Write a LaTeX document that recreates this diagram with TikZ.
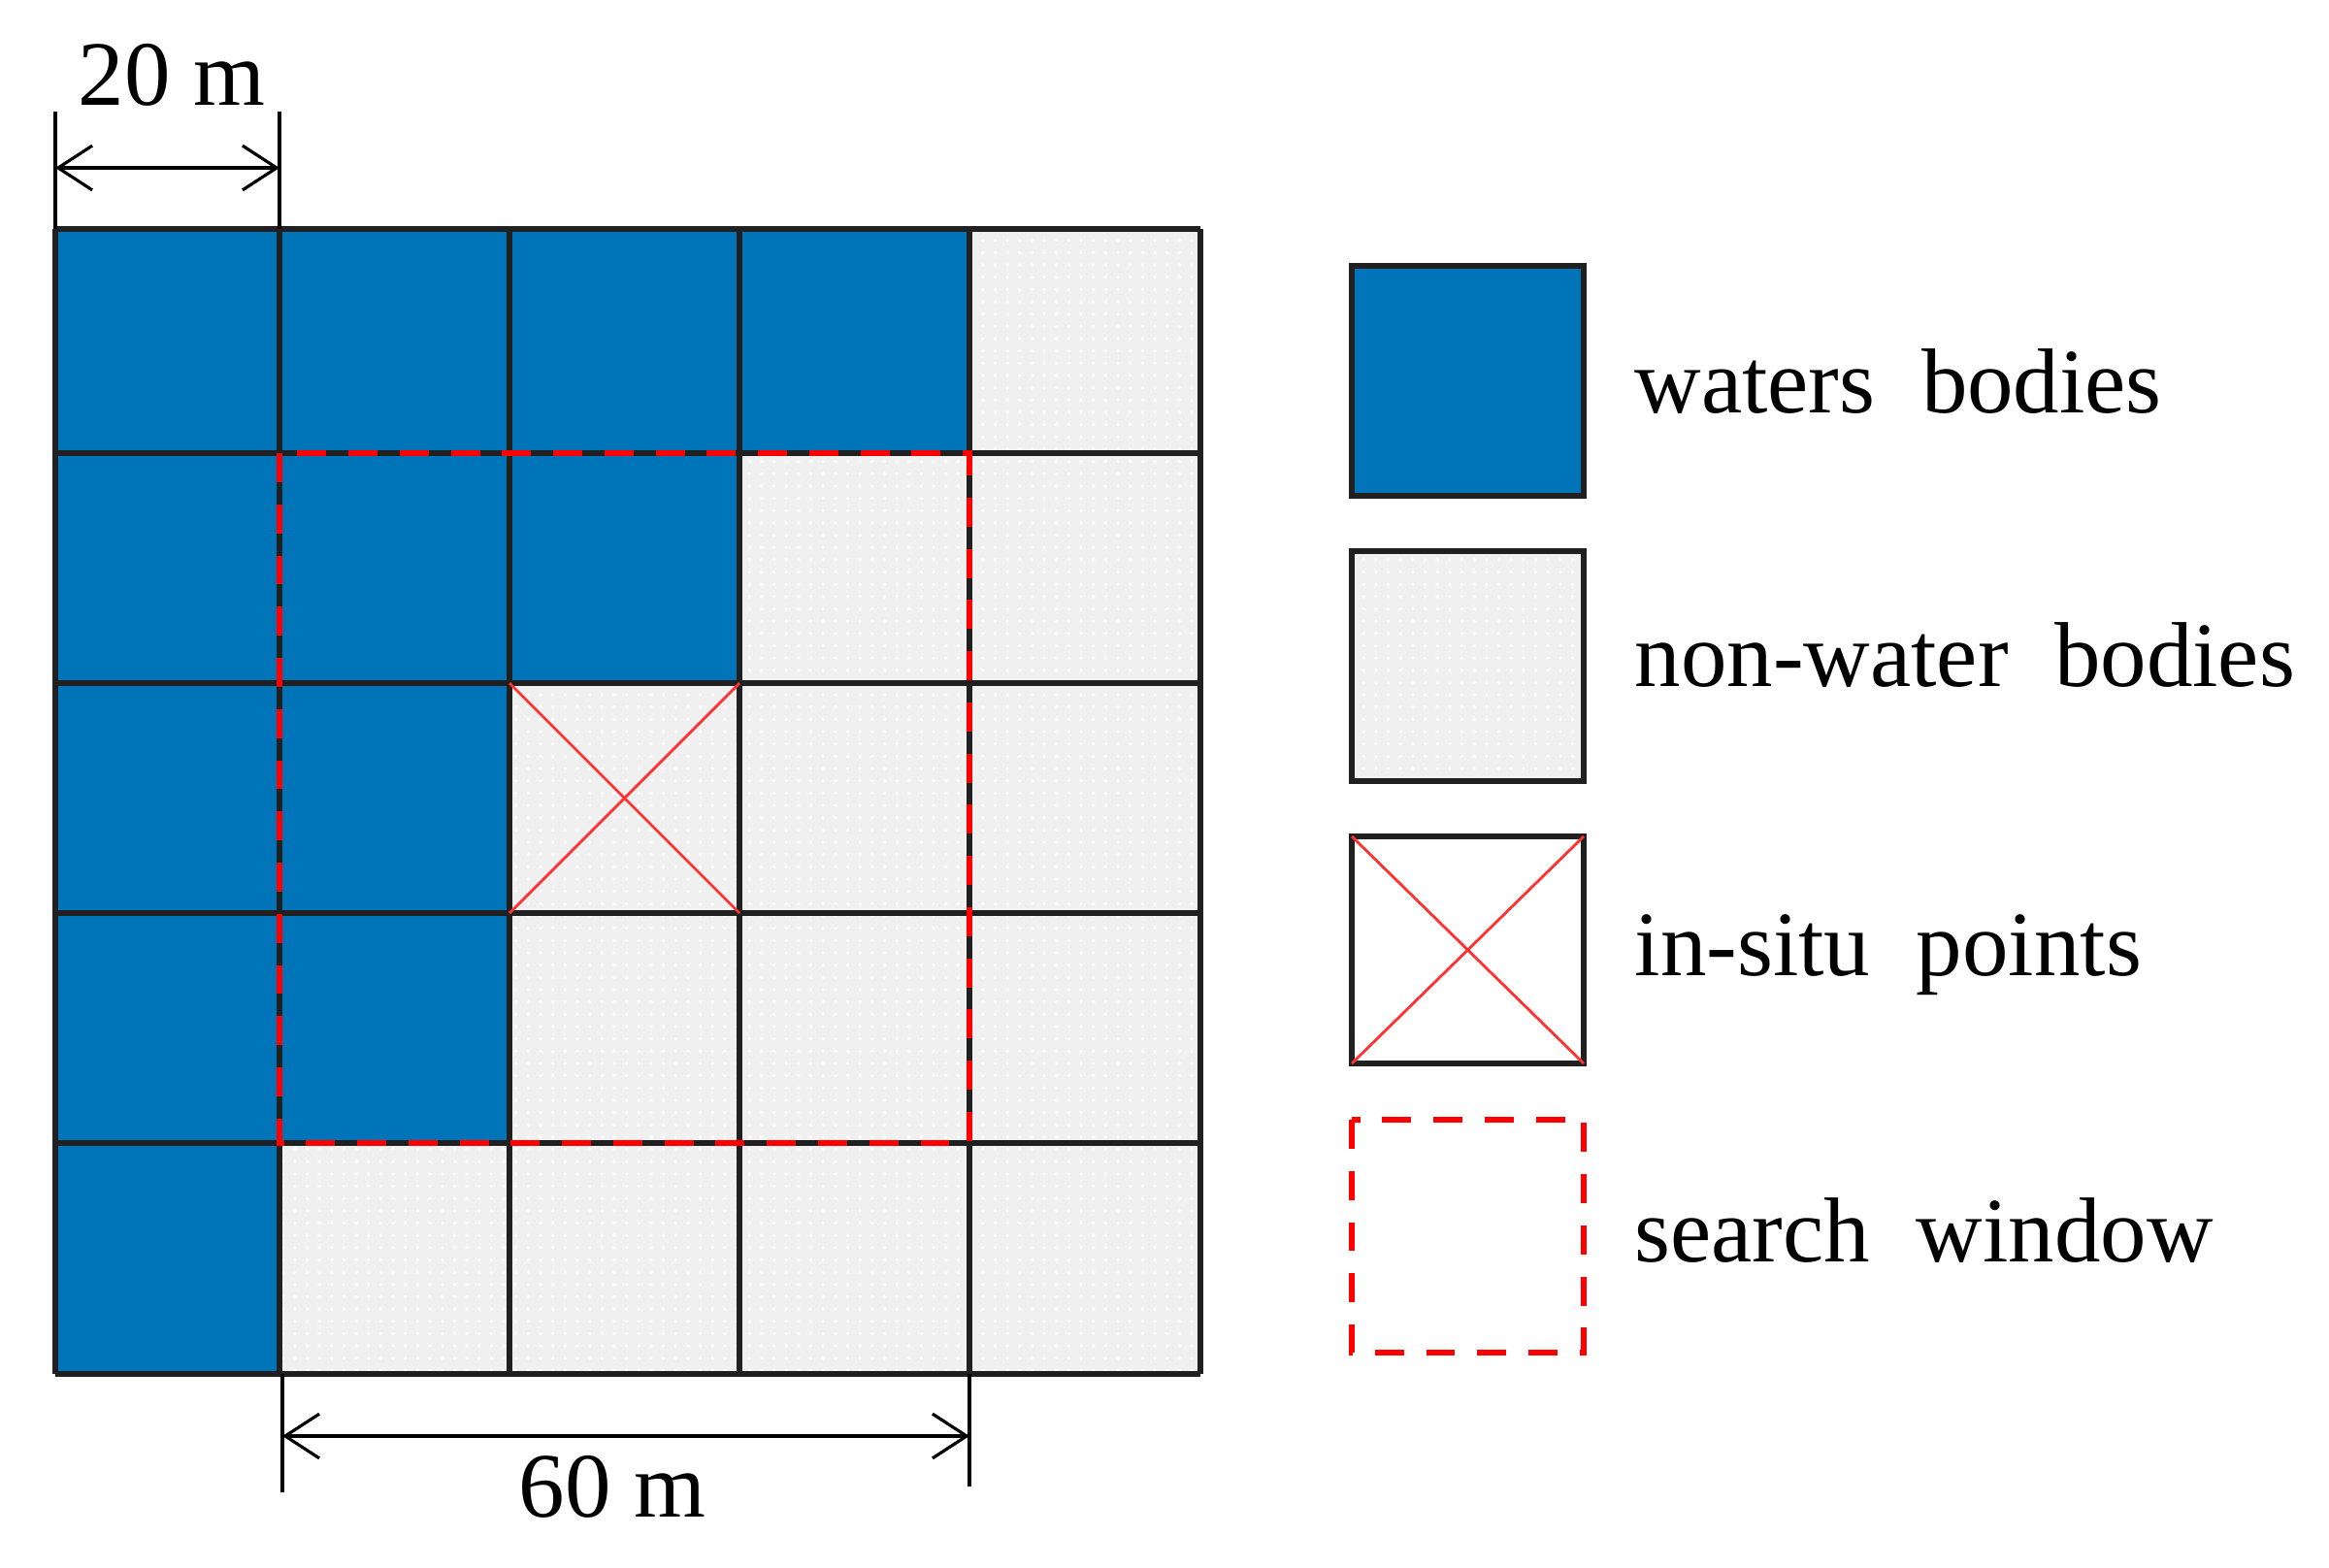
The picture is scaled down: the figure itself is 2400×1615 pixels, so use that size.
\documentclass[tikz,border=0pt]{standalone}
\usepackage{fontspec}
\setmainfont{Liberation Serif}
\usetikzlibrary{arrows.meta,patterns.meta}
\definecolor{waterblue}{RGB}{0,116,184}
\definecolor{landgray}{RGB}{240,240,240}
\definecolor{gridline}{RGB}{32,32,32}
\definecolor{winred}{RGB}{255,0,0}
\definecolor{crossred}{RGB}{255,50,50}
\tikzset{
  landfill/.style={fill=landgray},
  landdots/.style={pattern={Dots[radius=0.55pt,distance=3.6pt]},pattern color=white},
  gridstroke/.style={draw=gridline,line width=1.5pt},
  windowstroke/.style={draw=winred,line width=1.9pt,dash pattern=on 8.5pt off 6.5pt},
  crossstroke/.style={draw=crossred,line width=0.8pt},
  dimline/.style={draw=black,line width=1.1pt},
  dimarrow/.style={draw=black,line width=1.1pt,{Straight Barb[length=10pt,width=13pt,line width=0.9pt]}-{Straight Barb[length=10pt,width=13pt,line width=0.9pt]}},
  lbl/.style={inner sep=0pt,font=\fontsize{27}{32}\selectfont},
  wlbl/.style={lbl,execute at begin node={\spaceskip=0.5em plus 0.1em}}
}
\begin{document}
\begin{tikzpicture}[x=0.01cm,y=-0.01cm]
\useasboundingbox (0,0) rectangle (2400,1615);
% grid background
\fill[landfill] (57,236) rectangle (1237,1416);
\fill[landdots] (57,236) rectangle (1237,1416);
% water cells
\fill[waterblue] (57,236) -- (999,236) -- (999,467) -- (762,467) -- (762,704)
  -- (525,704) -- (525,1178) -- (288,1178) -- (288,1416) -- (57,1416) -- cycle;
% grid lines
\foreach \x in {57,288,525,762,999,1237} \draw[gridstroke] (\x,236) -- (\x,1416);
\foreach \y in {236,467,704,941,1178,1416} \draw[gridstroke] (57,\y) -- (1237,\y);
% in-situ point cell
\coordinate (pA) at (525,704);
\coordinate (pB) at (762,941);
\coordinate (pC) at (762,704);
\coordinate (pD) at (525,941);
\draw[crossstroke] (pA) -- (pB);
\draw[crossstroke] (pC) -- (pD);
% search window
\draw[windowstroke] (288,467) rectangle (999,1178);
% 20 m dimension
\coordinate (t1) at (57,115);
\coordinate (t1b) at (57,236);
\coordinate (t2) at (288,115);
\coordinate (t2b) at (288,236);
\draw[dimline] (t1) -- (t1b);
\draw[dimline] (t2) -- (t2b);
\coordinate (a1) at (57,173);
\coordinate (a2) at (288,173);
\draw[dimarrow] (a1) -- (a2);
\node[lbl,anchor=base] (lab20) at (177,108) {20 m};
% 60 m dimension
\coordinate (b1) at (291,1416);
\coordinate (b1b) at (291,1538);
\coordinate (b2) at (999,1416);
\coordinate (b2b) at (999,1532);
\draw[dimline] (b1) -- (b1b);
\draw[dimline] (b2) -- (b2b);
\coordinate (c1) at (291,1480);
\coordinate (c2) at (999,1480);
\draw[dimarrow] (c1) -- (c2);
\node[lbl,anchor=base] (lab60) at (631,1563) {60 m};
% legend
\fill[waterblue] (1393,274) rectangle (1632,511);
\draw[gridstroke] (1393,274) rectangle (1632,511);
\fill[landfill] (1393,568) rectangle (1632,805);
\fill[landdots] (1393,568) rectangle (1632,805);
\draw[gridstroke] (1393,568) rectangle (1632,805);
\fill[white] (1393,862) rectangle (1632,1096);
\draw[gridstroke] (1393,862) rectangle (1632,1096);
\coordinate (lA) at (1393,862);
\coordinate (lB) at (1632,1096);
\coordinate (lC) at (1632,862);
\coordinate (lD) at (1393,1096);
\draw[crossstroke] (lA) -- (lB);
\draw[crossstroke] (lC) -- (lD);
\draw[windowstroke] (1393,1154) rectangle (1632,1394);
\node[wlbl,anchor=base west] (lw) at (1684,425) {waters bodies};
\node[wlbl,anchor=base west] (ln) at (1684,707) {non-water bodies};
\node[wlbl,anchor=base west] (li) at (1684,1005) {in-situ points};
\node[wlbl,anchor=base west] (ls) at (1684,1300) {search window};
\end{tikzpicture}
\end{document}
